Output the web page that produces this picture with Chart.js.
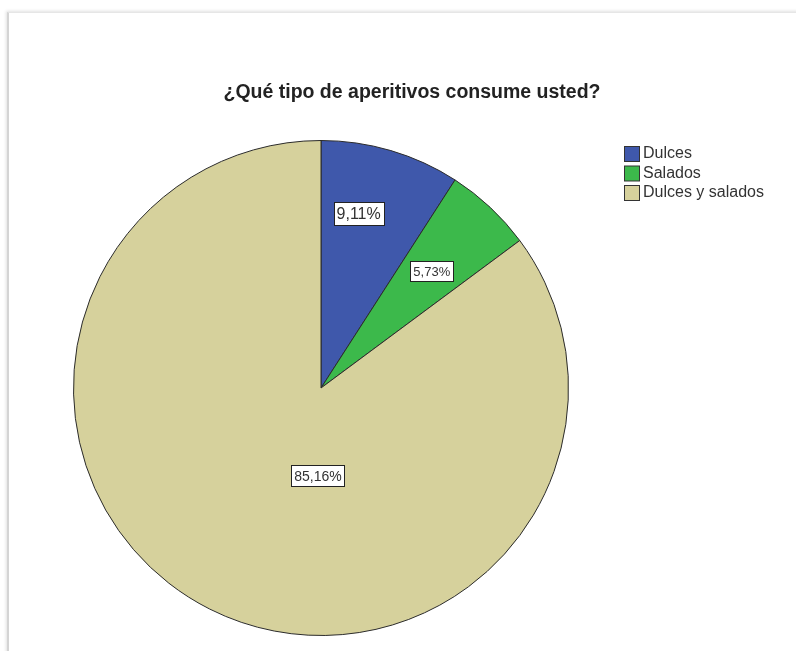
<!DOCTYPE html>
<html>
<head>
<meta charset="utf-8">
<script src="https://cdn.jsdelivr.net/npm/chart.js@4/dist/chart.umd.min.js"></script>
<style>
    html, body { margin: 0; padding: 0; background: #fff; }
    #frame {
        position: absolute; left: 7px; top: 12px; width: 800px; height: 650px;
        border-left: 2px solid #d4d4d4; border-top: 1px solid #e6e6e6;
        box-shadow: -1px -1px 3px rgba(0,0,0,0.12);
    }
    #chart { position: absolute; left: 0; top: 0; }
</style>
</head>
<body>
<div id="frame"></div>
<canvas id="chart" width="796" height="651"></canvas>
<script>
const title = '¿Qué tipo de aperitivos consume usted?'
const categories = ['Dulces', 'Salados', 'Dulces y salados']
const percents = [9.11, 5.73, 85.16]
const colors = ['#3f58ab', '#3cb94b', '#d6d19c']

const fmt = v => v.toFixed(2).replace('.', ',') + '%'

// SPSS style labels, legend and title
const spssDecor = {
    id: 'spssDecor',
    afterDatasetsDraw(chart, args, opts) {
        const ctx = chart.ctx
        const meta = chart.getDatasetMeta(0)
        const ds = chart.data.datasets[0]

        meta.data.forEach((arc, i) => {
            const { x, y, startAngle, endAngle, outerRadius } = arc.getProps(['x', 'y', 'startAngle', 'endAngle', 'outerRadius'], true)
            const mid = (startAngle + endAngle) / 2 + opts.angleShift[i] * Math.PI / 180
            const r = outerRadius * opts.radius[i]
            const lx = x + Math.cos(mid) * r
            const ly = y + Math.sin(mid) * r
            const text = fmt(ds.data[i])
            ctx.save()
            ctx.font = opts.labelSize[i] + 'px "Liberation Sans", Arial, sans-serif'
            const w = ctx.measureText(text).width + 6
            const h = opts.labelSize[i] + 7
            ctx.fillStyle = '#fff'
            ctx.fillRect(Math.round(lx - w / 2) + 0.5, Math.round(ly - h / 2) + 0.5, Math.round(w), h)
            ctx.strokeStyle = '#222'
            ctx.lineWidth = 1
            ctx.strokeRect(Math.round(lx - w / 2) + 0.5, Math.round(ly - h / 2) + 0.5, Math.round(w), h)
            ctx.fillStyle = '#333'
            ctx.textAlign = 'center'
            ctx.textBaseline = 'middle'
            ctx.fillText(text, lx, ly + 1)
            ctx.restore()
        })

        // title
        ctx.save()
        ctx.font = 'bold 19.5px "Liberation Sans", Arial, sans-serif'
        ctx.fillStyle = '#222'
        ctx.textAlign = 'center'
        ctx.textBaseline = 'middle'
        ctx.fillText(title, 412, 93)

        // legend
        ctx.font = '16px "Liberation Sans", Arial, sans-serif'
        ctx.textAlign = 'left'
        chart.data.labels.forEach((lab, i) => {
            const top = 146 + i * 19.5
            ctx.fillStyle = ds.backgroundColor[i]
            ctx.fillRect(624.5, top + 0.5, 15, 15)
            ctx.strokeStyle = '#333'
            ctx.lineWidth = 1
            ctx.strokeRect(624.5, top + 0.5, 15, 15)
            ctx.fillStyle = '#333'
            ctx.fillText(lab, 643, top + 8)
        })
        ctx.restore()
    }
}

new Chart(document.getElementById('chart'), {
    type: 'pie',
    data: {
        labels: categories,
        datasets: [{
            data: percents,
            backgroundColor: colors,
            borderColor: '#2b2b2b',
            borderWidth: 1
        }]
    },
    options: {
        responsive: false,
        animation: false,
        layout: { padding: { left: 73, top: 140, right: 227, bottom: 15 } },
        plugins: {
            legend: { display: false },
            tooltip: { enabled: false },
            spssDecor: {
                radius: [0.72, 0.65, 0.355],
                angleShift: [-4.2, 0.4, -24.7],
                labelSize: [16, 13, 14]
            }
        }
    },
    plugins: [spssDecor]
})
</script>
</body>
</html>
